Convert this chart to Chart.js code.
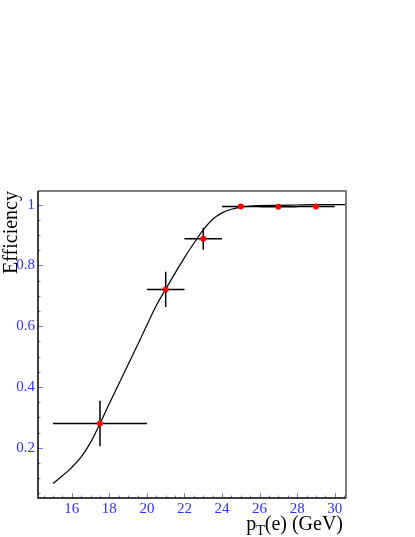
<!DOCTYPE html>
<html>
<head>
<meta charset="utf-8">
<script src="https://cdn.jsdelivr.net/npm/chart.js@4/dist/chart.umd.min.js"></script>
<style>
  html, body { margin: 0; padding: 0; background: #fff; }
  #c { display: block; }
</style>
</head>
<body>
<canvas id="c" width="415" height="537"></canvas>
<script>
// measured efficiency per pT bin
const ptCenters = [17.5, 21, 23, 25, 27, 29];
const ptLow = [15, 20, 22, 24, 26, 28];
const ptHigh = [20, 22, 24, 26, 28, 30];
const eff = [0.28, 0.721, 0.888, 0.994, 0.993, 0.994];
const effErr = [0.075, 0.058, 0.036, 0.004, 0.004, 0.003];

// fitted turn-on curve
const fitX = [15, 15.5, 16, 16.5, 17, 17.5, 18, 18.5, 19, 19.5, 20, 20.5, 21, 21.5, 22, 22.5, 23, 23.5, 24, 24.5, 25, 26, 27, 28, 29, 30.55];
const fitY = [0.083, 0.108, 0.136, 0.17, 0.218, 0.28, 0.346, 0.41, 0.474, 0.538, 0.604, 0.668, 0.722, 0.775, 0.826, 0.873, 0.917, 0.952, 0.973, 0.985, 0.992, 0.997, 0.998, 0.999, 1.0, 1.0];

// axis ticks
const xTicks = [16, 18, 20, 22, 24, 26, 28, 30];
const yTicks = [0.2, 0.4, 0.6, 0.8, 1];

const serif = '"Liberation Serif", "DejaVu Serif", serif';
const blue = '#2f2fff';

// error bar segments, broken up with null points
const errSegs = [];
ptCenters.forEach((x, i) => {
  errSegs.push({ x: ptLow[i], y: eff[i] }, { x: ptHigh[i], y: eff[i] }, { x: x, y: null });
  errSegs.push({ x: x, y: eff[i] - effErr[i] }, { x: x, y: eff[i] + effErr[i] }, { x: x, y: null });
});

const frameAndTicks = {
  id: 'frameAndTicks',
  afterDatasetsDraw(chart) {
    const ctx = chart.ctx;
    const a = chart.chartArea;
    const xs = chart.scales.x, ys = chart.scales.y;
    ctx.save();
    // inner ticks
    ctx.strokeStyle = '#7a7aff';
    ctx.lineWidth = 1;
    ctx.beginPath();
    for (let v = 14.5; v <= 30.5; v += 0.5) {
      const px = Math.round(xs.getPixelForValue(v)) + 0.5;
      const len = (v % 2 === 0) ? 5 : 2.5;
      ctx.moveTo(px, a.bottom);
      ctx.lineTo(px, a.bottom - len);
    }
    for (let k = 1; k <= 20; k++) {
      const v = k * 0.05;
      const py = Math.round(ys.getPixelForValue(v)) + 0.5;
      const len = (k % 4 === 0) ? 5 : 2.5;
      ctx.moveTo(a.left, py);
      ctx.lineTo(a.left + len, py);
    }
    ctx.stroke();
    // frame
    ctx.lineWidth = 1.5;
    ctx.strokeStyle = '#555';
    ctx.beginPath();
    ctx.moveTo(a.left, a.top);
    ctx.lineTo(a.right, a.top);
    ctx.lineTo(a.right, a.bottom);
    ctx.stroke();
    ctx.strokeStyle = '#000';
    ctx.beginPath();
    ctx.moveTo(a.left, a.top);
    ctx.lineTo(a.left, a.bottom);
    ctx.lineTo(a.right, a.bottom);
    ctx.stroke();
    // axis titles
    ctx.fillStyle = '#000';
    ctx.font = '20px ' + serif;
    ctx.textBaseline = 'alphabetic';
    // x title: p_T(e) (GeV), right aligned
    const rest = '(e) (GeV)';
    const wRest = ctx.measureText(rest).width;
    const wP = ctx.measureText('p').width;
    ctx.font = '14px ' + serif;
    const wT = ctx.measureText('T').width;
    let x0 = 343 - wRest - wT - wP;
    const base = 530;
    ctx.font = '20px ' + serif;
    ctx.textAlign = 'left';
    ctx.fillText('p', x0, base);
    ctx.font = '14px ' + serif;
    ctx.fillText('T', x0 + wP, base + 5);
    ctx.font = '20px ' + serif;
    ctx.fillText(rest, x0 + wP + wT, base);
    // y title, rotated, aligned to the top of the frame
    ctx.translate(16.5, a.top);
    ctx.rotate(-Math.PI / 2);
    ctx.textAlign = 'right';
    ctx.fillText('Efficiency', 0, 0);
    ctx.restore();
  }
};

const chart = new Chart(document.getElementById('c'), {
  type: 'scatter',
  data: {
    datasets: [{
      label: 'data',
      data: ptCenters.map((x, i) => ({ x: x, y: eff[i] })),
      pointRadius: 3,
      pointHoverRadius: 3,
      pointBackgroundColor: '#ff0000',
      pointBorderWidth: 0,
      order: 0
    }, {
      label: 'errors',
      data: errSegs,
      showLine: true,
      spanGaps: false,
      borderColor: '#000',
      borderWidth: 1.5,
      pointRadius: 0,
      order: 1
    }, {
      label: 'fit',
      data: fitX.map((x, i) => ({ x: x, y: fitY[i] })),
      showLine: true,
      borderColor: '#000',
      borderWidth: 1.2,
      pointRadius: 0,
      cubicInterpolationMode: 'monotone',
      order: 2
    }]
  },
  options: {
    responsive: false,
    animation: false,
    devicePixelRatio: 1,
    layout: { padding: { top: 191, right: 69, left: 0, bottom: 0 } },
    plugins: { legend: { display: false }, tooltip: { enabled: false } },
    scales: {
      x: {
        type: 'linear',
        min: 14.2,
        max: 30.6,
        grid: { display: false, drawTicks: false, tickLength: 0 },
        border: { display: false },
        afterBuildTicks: s => { s.ticks = xTicks.map(v => ({ value: v })); },
        afterFit: s => { s.height = 39; },
        ticks: {
          color: blue,
          font: { family: serif, size: 15 },
          padding: 2,
          maxRotation: 0,
          autoSkip: false,
          callback: v => String(v)
        }
      },
      y: {
        type: 'linear',
        min: 0.035,
        max: 1.045,
        grid: { display: false, drawTicks: false, tickLength: 0 },
        border: { display: false },
        afterBuildTicks: s => { s.ticks = yTicks.map(v => ({ value: v })); },
        afterFit: s => { s.width = 38; },
        ticks: {
          color: blue,
          font: { family: serif, size: 15 },
          padding: 3,
          autoSkip: false,
          callback: v => String(Math.round(v * 10) / 10)
        }
      }
    }
  },
  plugins: [frameAndTicks]
});
</script>
</body>
</html>
